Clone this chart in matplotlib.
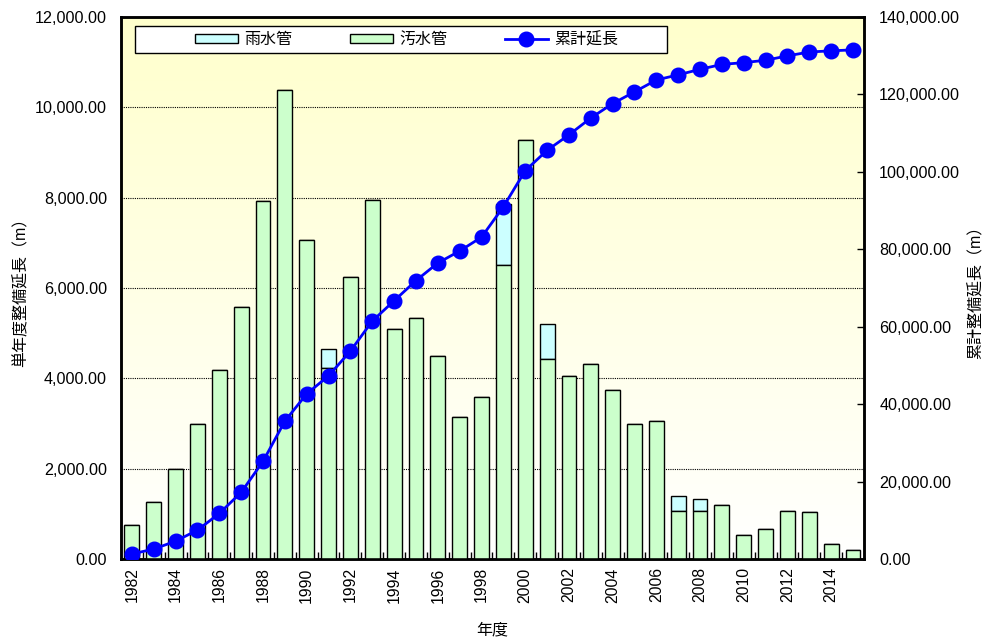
import numpy as np
import matplotlib.pyplot as plt
from matplotlib.ticker import FuncFormatter, FixedLocator
from matplotlib.colors import LinearSegmentedColormap
from matplotlib.patches import Rectangle

plt.rcParams['font.family'] = ['Liberation Sans', 'Noto Sans CJK JP']

# 年度別データ
years = list(range(1982, 2016))
osui = [750, 1255, 2000, 2980, 4180, 5570, 7920, 10380, 7055, 4230,
        6250, 7950, 5090, 5335, 4495, 3135, 3585, 6500, 9285, 4435,
        4060, 4310, 3750, 2995, 3055, 1070, 1070, 1195, 525, 655,
        1060, 1050, 330, 190]
usui = [0, 0, 0, 0, 0, 0, 0, 0, 0, 410,
        0, 0, 0, 0, 0, 0, 0, 1370, 0, 760,
        0, 0, 0, 0, 0, 325, 265, 0, 0, 0,
        0, 0, 0, 0]
ruikei = [1290, 2560, 4600, 7450, 11750, 17200, 25200, 35600, 42650, 47300,
          53700, 61450, 66700, 71900, 76450, 79550, 83120, 90970, 100300, 105550,
          109550, 113900, 117620, 120650, 123720, 125050, 126480, 127750, 128200, 128820,
          129950, 130950, 131250, 131500]

x = np.arange(len(years))

fig = plt.figure(figsize=(9.85, 6.4), dpi=100)
ax = fig.add_axes([0.1228, 0.1266, 0.7543, 0.8469])
ax2 = ax.twinx()

# 背景のグラデーション（上：薄い黄色 → 下：白）
cmap = LinearSegmentedColormap.from_list('bg', ['#ffffff', '#ffffcc'])
grad = np.linspace(0, 1, 256).reshape(-1, 1)
ax.imshow(grad, cmap=cmap, aspect='auto', extent=[0, 1, 0, 1],
          transform=ax.transAxes, origin='lower', zorder=0)

# 棒グラフ
bw = 0.68
b1 = ax.bar(x, usui, bw, bottom=osui, color='#ccffff', edgecolor='black',
            linewidth=1.0, zorder=3, label='雨水管')
b2 = ax.bar(x, osui, bw, color='#ccffcc', edgecolor='black',
            linewidth=1.0, zorder=3, label='汚水管')

ax.set_xlim(-0.5, len(years) - 0.5)
ax.set_ylim(0, 12000)
ax.set_yticks(np.arange(0, 12001, 2000))
ax.yaxis.set_major_formatter(FuncFormatter(lambda v, p: f'{v:,.2f}'))
ax.tick_params(axis='y', length=0, labelsize=11.6, pad=10)
for yv in range(2000, 12000, 2000):
    ax.axhline(yv, color='black', linestyle=(0, (1, 1)), linewidth=0.8, zorder=1)

ax.set_xticks(x[::2])
ax.set_xticklabels([str(y) for y in years[::2]], rotation=90, fontsize=11.3)
ax.xaxis.set_minor_locator(FixedLocator(x[:-1] + 0.5))
ax.tick_params(axis='x', which='major', length=0, pad=6)
ax.tick_params(axis='x', which='minor', direction='in', length=5, width=1)

ax.set_ylabel('単年度整備延長（m）', fontsize=11.5, labelpad=5)
ax.set_xlabel('年度', fontsize=11.5, labelpad=14)

# 累計延長
ln, = ax2.plot(x, ruikei, color='#0000ff', linewidth=2, marker='o',
               markersize=10.5, zorder=5, label='累計延長')
ax2.set_ylim(0, 140000)
ax2.set_yticks(np.arange(0, 140001, 20000))
ax2.yaxis.set_major_formatter(FuncFormatter(lambda v, p: f'{v:,.2f}'))
ax2.tick_params(axis='y', direction='in', length=5, width=1, labelsize=11.6, pad=11)
ax2.set_ylabel('累計整備延長（m）', fontsize=11.5, rotation=90, labelpad=6)

for a in (ax, ax2):
    for s in a.spines.values():
        s.set_linewidth(1.8)
        s.set_color('black')

# 凡例の枠
ax2.add_patch(Rectangle((0.0188, 0.9336), 0.7162, 0.0498, transform=ax2.transAxes,
                        facecolor='white', edgecolor='black', linewidth=1.0,
                        zorder=6, clip_on=False))
leg = ax2.legend([b1, b2, ln], ['雨水管', '汚水管', '累計延長'], ncol=3,
                 loc='center', bbox_to_anchor=(0.3845, 0.9585),
                 fontsize=11.5, frameon=False, handlelength=2.7,
                 handleheight=0.45, handletextpad=0.4, columnspacing=3.6,
                 borderaxespad=0)
leg.set_zorder(7)

fig.savefig('out.png', dpi=100)
